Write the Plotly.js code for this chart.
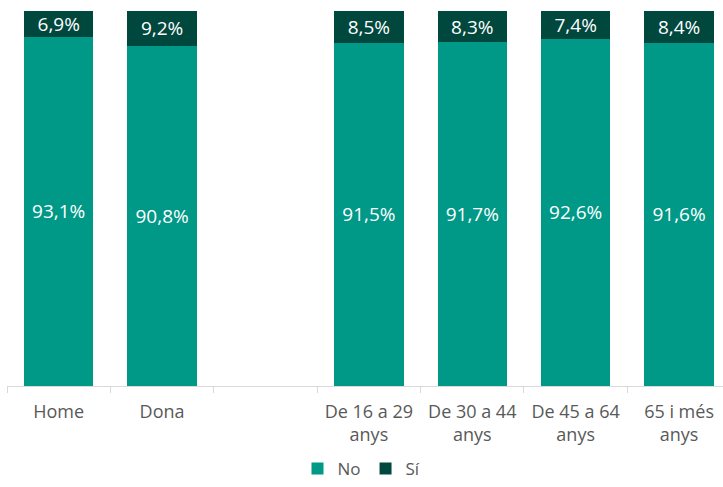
<!DOCTYPE html>
<html>
<head>
<meta charset="utf-8">
<script src="https://cdn.plot.ly/plotly-3.0.1.min.js"></script>
<style>html,body{margin:0;padding:0;background:#fff;}#chart{width:723px;height:487px;}</style>
</head>
<body>
<div id="chart"></div>
<script>
const categories = ["Home", "Dona", " ", "De 16 a 29<br>anys", "De 30 a 44<br>anys", "De 45 a 64<br>anys", "65 i més<br>anys"];
const noValues = [93.1, 90.8, null, 91.5, 91.7, 92.6, 91.6];
const siValues = [6.9, 9.2, null, 8.5, 8.3, 7.4, 8.4];
const seriesNames = ["No", "Sí"];
const colors = ["#009886", "#00473E"];

function fmt(v) { return v == null ? "" : v.toFixed(1).replace(".", ",") + "%"; }

const common = {
  type: "bar",
  x: categories,
  width: 0.67,
  textposition: "inside",
  insidetextanchor: "middle",
  textangle: 0,
  constraintext: "none",
  textfont: {color: "#ffffff", size: 19, family: "Open Sans, sans-serif"},
  hoverinfo: "none"
};

const data = [
  Object.assign({}, common, {name: seriesNames[0], y: noValues, text: noValues.map(fmt), marker: {color: colors[0]}}),
  Object.assign({}, common, {name: seriesNames[1], y: siValues, text: siValues.map(fmt), marker: {color: colors[1]}})
];

const layout = {
  width: 723, height: 487,
  margin: {l: 7, r: 0, t: 11, b: 101},
  barmode: "stack",
  paper_bgcolor: "#ffffff",
  plot_bgcolor: "#ffffff",
  font: {family: "Open Sans, sans-serif", color: "#595959", size: 16},
  xaxis: {
    type: "category",
    range: [-0.5, 6.425],
    automargin: false,
    tickson: "boundaries",
    ticks: "outside",
    ticklen: 6,
    tickcolor: "#d9d9d9",
    showline: true,
    linecolor: "#d9d9d9",
    linewidth: 1,
    showgrid: false,
    ticklabelstandoff: 9,
    tickfont: {size: 18, color: "#595959"}
  },
  yaxis: {
    range: [0, 100],
    visible: false,
    showgrid: false,
    zeroline: false
  },
  showlegend: true,
  legend: {
    orientation: "h",
    x: 0.5, xanchor: "center", xref: "container",
    y: 0, yanchor: "bottom", yref: "container",
    font: {size: 17, color: "#595959"},
    itemwidth: 30,
    tracegroupgap: 0,
    traceorder: "normal"
  }
};

Plotly.newPlot("chart", data, layout, {displayModeBar: false, staticPlot: true});
</script>
</body>
</html>
